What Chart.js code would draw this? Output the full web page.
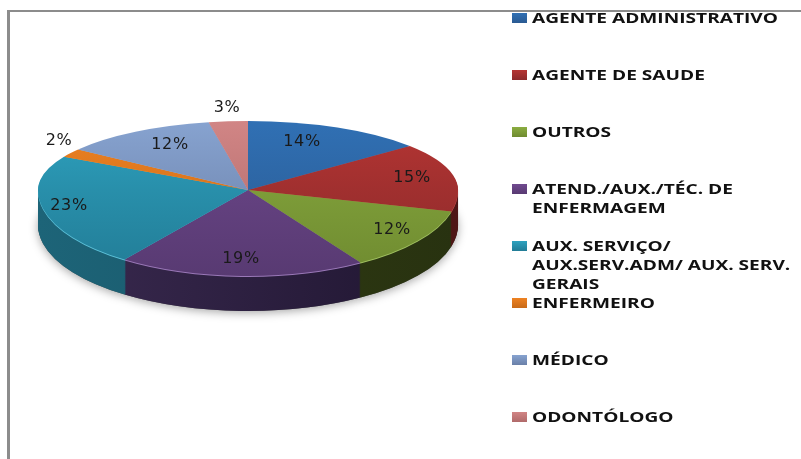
<!DOCTYPE html>
<html>
<head>
<meta charset="utf-8">
<title>Pizza</title>
<script src="https://cdn.jsdelivr.net/npm/chart.js@4"></script>
<style>
  html, body { margin: 0; background: #fff; }
  #caixa { position: relative; width: 801px; height: 459px; overflow: hidden; }
  #caixa::before { content: ''; position: absolute; left: 7px; top: 10px; bottom: 0; width: 3px; background: #8c8c8c; }
  #caixa::after { content: ''; position: absolute; left: 7px; right: 0; top: 10px; height: 2px; background: #8c8c8c; }
  canvas { filter: blur(0.4px); }
</style>
</head>
<body>
<div id="caixa"><canvas id="grafico" width="801" height="459"></canvas></div>
<script>
const categorias = ['AGENTE ADMINISTRATIVO', 'AGENTE DE SAUDE', 'OUTROS', 'ATEND./AUX./TÉC. DE ENFERMAGEM', 'AUX. SERVIÇO/ AUX.SERV.ADM/ AUX. SERV. GERAIS', 'ENFERMEIRO', 'MÉDICO', 'ODONTÓLOGO'];
const legendaLinhas = [['AGENTE ADMINISTRATIVO'], ['AGENTE DE SAUDE'], ['OUTROS'], ['ATEND./AUX./TÉC. DE', 'ENFERMAGEM'], ['AUX. SERVIÇO/', 'AUX.SERV.ADM/ AUX. SERV.', 'GERAIS'], ['ENFERMEIRO'], ['MÉDICO'], ['ODONTÓLOGO']];
const valores = [14, 15, 12, 19, 23, 2, 12, 3];
const coresClaras = ['#3070b4', '#b53533', '#8bad41', '#70498f', '#2ea2bf', '#ee8222', '#87a3d0', '#d18585'];
const coresEscuras = ['#2a5a92', '#8c2a2b', '#6f8b30', '#583a72', '#227c96', '#c86a18', '#6a80a8', '#b06a6a'];
const coresLateral = ['#254a75', '#6a1e1e', '#333f14', '#3a2a50', '#1d6478', '#8a4a10', '#4f5f7e', '#7f4c4c'];
const coresLateralFim = ['#1c3857', '#4e1616', '#283210', '#1f1530', '#164f5f', '#6a380c', '#3c4860', '#603a3a'];
const coresBorda = ['#4a86c4', '#c85050', '#a0c060', '#9a78b8', '#5cc0d8', '#f0a050', '#a0b8dc', '#e0a0a0'];
const posRotulos = [[302, 142], [412, 178], [392, 230], [241, 259], [69, 206], [59, 141], [170, 145], [227, 108]];

// geometria da pizza "3D"
const centroY = 190, raioCima = 69, raioBaixo = 86, profundidade = 35;

// desenha os arcos achatados: metade de cima e de baixo com escalas diferentes
function desenharAchatado(ctx, chart, dy, pegarCor) {
    const meta = chart.getDatasetMeta(0);
    const cy = chart.chartArea.top + chart.chartArea.height / 2;
    const r = chart.chartArea.height / 2;
    [[-1, raioCima], [1, raioBaixo]].forEach(([lado, raio]) => {
        ctx.save();
        ctx.beginPath();
        if (lado < 0) ctx.rect(0, 0, 801, centroY + dy);
        else ctx.rect(0, centroY + dy, 801, 459);
        ctx.clip();
        ctx.translate(0, centroY + dy);
        ctx.scale(1, raio / r);
        ctx.translate(0, -cy);
        meta.data.forEach((arco, i) => {
            const opcoes = arco.options;
            arco.options = Object.assign({}, opcoes, { backgroundColor: pegarCor(ctx, i, cy, r), borderWidth: 0 });
            arco.draw(ctx);
            arco.options = opcoes;
        });
        ctx.restore();
    });
}

const pizza3d = {
    id: 'pizza3d',
    beforeDatasetsDraw(chart) {
        const ctx = chart.ctx;
        // sombra bem leve por baixo
        ctx.save();
        ctx.shadowColor = 'rgba(0,0,0,0.35)';
        ctx.shadowBlur = 10;
        ctx.shadowOffsetY = 2;
        desenharAchatado(ctx, chart, profundidade, () => '#555');
        ctx.restore();
        // lateral: empilha camadas escuras
        for (let d = profundidade; d > 1; d -= 1) {
            desenharAchatado(ctx, chart, d, (c, i) => {
                const g = c.createLinearGradient(38, 0, 458, 0);
                g.addColorStop(0, coresLateral[i]);
                g.addColorStop(1, coresLateralFim[i]);
                return g;
            });
        }
        // friso claro na borda da frente
        desenharAchatado(ctx, chart, 1, (c, i) => coresBorda[i]);
        // topo
        desenharAchatado(ctx, chart, 0, (c, i, cy, r) => {
            const g = c.createLinearGradient(0, cy - r, 0, cy + r);
            g.addColorStop(0, coresClaras[i]);
            g.addColorStop(1, coresEscuras[i]);
            return g;
        });
        return false;
    },
    afterDraw(chart) {
        const ctx = chart.ctx;
        ctx.save();
        // rótulos de porcentagem
        ctx.font = '16px "DejaVu Sans"';
        ctx.letterSpacing = '0.6px';
        ctx.fillStyle = '#1a1a1a';
        ctx.textAlign = 'center';
        ctx.textBaseline = 'middle';
        valores.forEach((v, i) => ctx.fillText(v + '%', posRotulos[i][0], posRotulos[i][1]));
        // legenda (texto esticado na horizontal, como no original)
        ctx.letterSpacing = '0px';
        ctx.textAlign = 'left';
        ctx.font = '700 15px "Open Sans"';
        const esticar = 246 / ctx.measureText('AGENTE ADMINISTRATIVO').width;
        legendaLinhas.forEach((linhas, i) => {
            const y = 18 + 57 * i;
            const g = ctx.createLinearGradient(0, y - 5, 0, y + 5);
            g.addColorStop(0, coresClaras[i]);
            g.addColorStop(1, coresEscuras[i]);
            ctx.fillStyle = g;
            ctx.fillRect(512, y - 5, 15, 10);
            ctx.fillStyle = '#111';
            linhas.forEach((txt, j) => {
                ctx.save();
                ctx.translate(532, y + 1 + j * 19);
                ctx.scale(esticar, 1);
                ctx.fillText(txt, 0, 0);
                ctx.restore();
            });
        });
        ctx.restore();
    }
};

new Chart(document.getElementById('grafico'), {
    type: 'pie',
    data: {
        labels: categorias,
        datasets: [{ data: valores, backgroundColor: coresClaras, borderWidth: 0 }]
    },
    options: {
        responsive: false,
        animation: false,
        layout: { padding: { left: 38, right: 343, top: 0, bottom: 39 } },
        plugins: { legend: { display: false }, tooltip: { enabled: false } }
    },
    plugins: [pizza3d]
});
</script>
</body>
</html>
